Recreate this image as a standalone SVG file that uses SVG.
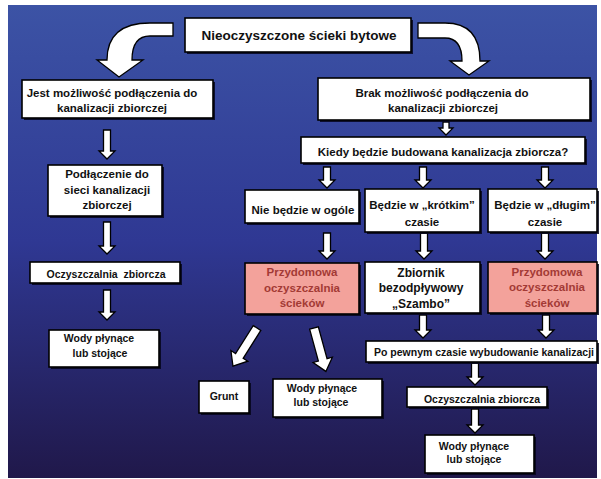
<svg xmlns="http://www.w3.org/2000/svg" width="601" height="479" viewBox="0 0 601 479">
  <defs>
    <linearGradient id="bg" x1="0" y1="0" x2="0" y2="1">
      <stop offset="0" stop-color="#3c53a5"/>
      <stop offset="0.5" stop-color="#2f3893"/>
      <stop offset="1" stop-color="#20184a"/>
    </linearGradient>
    <style>
      .box { fill: #ffffff; stroke: #000000; stroke-width: 1.6; }
      .pink { fill: #f3a29b; stroke: #000000; stroke-width: 1.6; }
      .sh { fill: #05051a; opacity: 0.85; }
      .t { font-family: "Liberation Sans", Arial, sans-serif; font-weight: bold; font-size: 11.5px; fill: #111111; text-anchor: middle; }
      .s { font-size: 10.5px; }
      .big { font-size: 13.5px; }
      .z { font-size: 12px; }
      .pt { font-family: "Liberation Sans", Arial, sans-serif; font-weight: bold; font-size: 11.5px; fill: #a33a35; text-anchor: middle; }
      .arr { fill: #ffffff; stroke: #000000; stroke-width: 1.3; stroke-linejoin: miter; }
    </style>
  </defs>

  <rect x="0" y="0" width="601" height="479" fill="#ffffff"/>
  <rect x="8" y="5" width="589" height="473" fill="url(#bg)"/>

  <g id="connectors">
    <path class="arr" d="M173,23 L150,23 Q107,23 107,60 L97,60 L119,77 L143,60 L132,60 Q132,36 150,36 L173,36 Z"/>
    <path class="arr" d="M418,23 L445,23 Q480,23 480,61 L489,61 L469,75 L450,61 L462,61 Q462,38 445,38 L418,38 Z"/>
    <path class="arr" d="M103.5,130 H110.5 V151 H115 L107,159 L99,151 H103.5 Z"/>
    <path class="arr" d="M103.5,222 H110.5 V246 H115 L107,254 L99,246 H103.5 Z"/>
    <path class="arr" d="M103.5,290 H110.5 V312 H115 L107,320 L99,312 H103.5 Z"/>
    <path class="arr" d="M443,122 H449 V128 H453 L446,135 L439,128 H443 Z"/>
    <path class="arr" d="M323.5,167 H330.5 V180 H335 L327,188 L319,180 H323.5 Z"/>
    <path class="arr" d="M419.5,167 H426.5 V180 H431 L423,188 L415,180 H419.5 Z"/>
    <path class="arr" d="M541.5,167 H548.5 V180 H553 L545,188 L537,180 H541.5 Z"/>
    <path class="arr" d="M323.5,233 H330.5 V251 H335 L327,259 L319,251 H323.5 Z"/>
    <path class="arr" d="M420.5,233 H427.5 V251 H432 L424,259 L416,251 H420.5 Z"/>
    <path class="arr" d="M541.5,233 H548.5 V251 H553 L545,259 L537,251 H541.5 Z"/>
    <path class="arr" d="M419.5,315 H426.5 V330 H431 L423,338 L415,330 H419.5 Z"/>
    <path class="arr" d="M542.5,315 H549.5 V330 H554 L546,338 L538,330 H542.5 Z"/>
    <path class="arr" d="M471.5,363 H478.5 V377 H483 L475,385 L467,377 H471.5 Z"/>
    <path class="arr" d="M471.5,409 H478.5 V425 H483 L475,433 L467,425 H471.5 Z"/>
    <path class="arr" transform="translate(257,328) rotate(32.3)" d="M-4.5,0 H4.5 V33 H10 L0,45 L-10,33 H-4.5 Z"/>
    <path class="arr" transform="translate(314,328) rotate(-15.3)" d="M-4.5,0 H4.5 V33 H10 L0,45 L-10,33 H-4.5 Z"/>
  </g>

  <g id="n-start">
    <rect class="sh" x="187" y="20" width="226" height="34"/>
    <rect class="box" x="185" y="18" width="226" height="34"/>
    <text class="t big" x="299" y="40">Nieoczyszczone ścieki bytowe</text>
  </g>

  <g id="n-jest">
    <rect class="sh" x="24" y="82" width="191" height="38"/>
    <rect class="box" x="22" y="80" width="191" height="38"/>
    <text class="t" x="112" y="97">Jest możliwość podłączenia do</text>
    <text class="t" x="112" y="112">kanalizacji zbiorczej</text>
  </g>

  <g id="n-brak">
    <rect class="sh" x="320" y="80" width="272" height="42"/>
    <rect class="box" x="318" y="78" width="272" height="42"/>
    <text class="t" x="442" y="97">Brak możliwość podłączenia do</text>
    <text class="t" x="443" y="112">kanalizacji zbiorczej</text>
  </g>

  <g id="n-kiedy">
    <rect class="sh" x="303" y="139" width="284" height="26"/>
    <rect class="box" x="301" y="137" width="284" height="26"/>
    <text class="t" x="443" y="156">Kiedy będzie budowana kanalizacja zbiorcza?</text>
  </g>

  <g id="n-podlaczenie">
    <rect class="sh" x="50" y="167" width="114" height="51"/>
    <rect class="box" x="48" y="165" width="114" height="51"/>
    <text class="t" x="107" y="178">Podłączenie do</text>
    <text class="t" x="107" y="194">sieci kanalizacji</text>
    <text class="t" x="107" y="209">zbiorczej</text>
  </g>

  <g id="n-oczyszczalnia1">
    <rect class="sh" x="32" y="264" width="150" height="21"/>
    <rect class="box" x="30" y="262" width="150" height="21"/>
    <text class="t s" x="106" y="278" xml:space="preserve">Oczyszczalnia  zbiorcza</text>
  </g>

  <g id="n-wody1">
    <rect class="sh" x="51" y="332" width="110" height="37"/>
    <rect class="box" x="49" y="330" width="110" height="37"/>
    <text class="t s" x="99" y="342">Wody płynące</text>
    <text class="t s" x="100" y="357">lub stojące</text>
  </g>

  <g id="n-nie">
    <rect class="sh" x="247" y="192" width="114" height="33"/>
    <rect class="box" x="245" y="190" width="114" height="33"/>
    <text class="t" x="303" y="214">Nie będzie w ogóle</text>
  </g>

  <g id="n-krotkim">
    <rect class="sh" x="367" y="191" width="115" height="43"/>
    <rect class="box" x="365" y="189" width="115" height="43"/>
    <text class="t" x="422" y="209">Będzie w „krótkim”</text>
    <text class="t" x="422" y="226">czasie</text>
  </g>

  <g id="n-dlugim">
    <rect class="sh" x="490" y="191" width="109" height="43"/>
    <rect class="box" x="488" y="189" width="109" height="43"/>
    <text class="t" x="545" y="209">Będzie w „długim”</text>
    <text class="t" x="545" y="226">czasie</text>
  </g>

  <g id="n-przydomowa1">
    <rect class="sh" x="247" y="265" width="114" height="51"/>
    <rect class="pink" x="245" y="263" width="114" height="51"/>
    <text class="pt" x="302" y="276">Przydomowa</text>
    <text class="pt" x="302" y="292">oczyszczalnia</text>
    <text class="pt" x="302" y="307">ścieków</text>
  </g>

  <g id="n-zbiornik">
    <rect class="sh" x="367" y="264" width="115" height="51"/>
    <rect class="box" x="365" y="262" width="115" height="51"/>
    <text class="t z" x="421" y="277">Zbiornik</text>
    <text class="t z" x="421" y="292">bezodpływowy</text>
    <text class="t z" x="421" y="308">„Szambo”</text>
  </g>

  <g id="n-przydomowa2">
    <rect class="sh" x="490" y="264" width="109" height="51"/>
    <rect class="pink" x="488" y="262" width="109" height="51"/>
    <text class="pt" x="547" y="276">Przydomowa</text>
    <text class="pt" x="547" y="291">oczyszczalnia</text>
    <text class="pt" x="547" y="307">ścieków</text>
  </g>

  <g id="n-po-pewnym">
    <rect class="sh" x="368" y="343" width="231" height="21"/>
    <rect class="box" x="366" y="341" width="231" height="21"/>
    <text class="t s" x="484" y="356">Po pewnym czasie wybudowanie kanalizacji</text>
  </g>

  <g id="n-oczyszczalnia2">
    <rect class="sh" x="409" y="389" width="140" height="20"/>
    <rect class="box" x="407" y="387" width="140" height="20"/>
    <text class="t s" x="482" y="403">Oczyszczalnia zbiorcza</text>
  </g>

  <g id="n-wody3">
    <rect class="sh" x="427" y="437" width="109" height="38"/>
    <rect class="box" x="425" y="435" width="109" height="38"/>
    <text class="t s" x="474" y="450">Wody płynące</text>
    <text class="t s" x="474" y="463">lub stojące</text>
  </g>

  <g id="n-grunt">
    <rect class="sh" x="201" y="383" width="50" height="32"/>
    <rect class="box" x="199" y="381" width="50" height="32"/>
    <text class="t s" x="224" y="400">Grunt</text>
  </g>

  <g id="n-wody2">
    <rect class="sh" x="275" y="381" width="109" height="38"/>
    <rect class="box" x="273" y="379" width="109" height="38"/>
    <text class="t s" x="322" y="392">Wody płynące</text>
    <text class="t s" x="321" y="406">lub stojące</text>
  </g>
</svg>
